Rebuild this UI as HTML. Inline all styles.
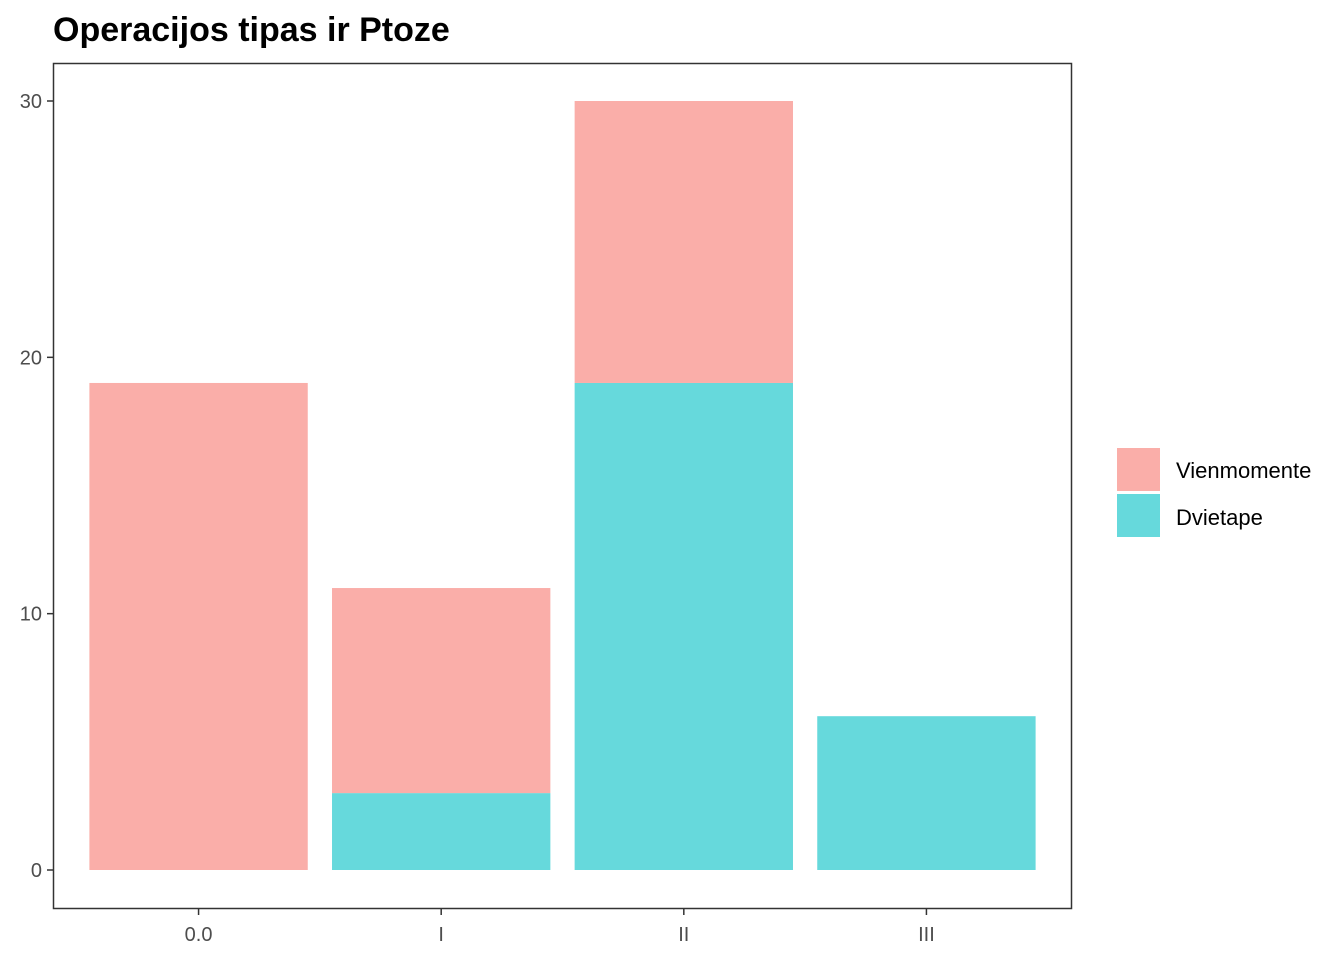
<!DOCTYPE html>
<html><head><meta charset="utf-8"><style>
body{margin:0;background:#fff;}
svg text{font-family:"Liberation Sans",Arial,sans-serif;}
</style></head><body>
<svg id="chart" width="1344" height="960" xmlns="http://www.w3.org/2000/svg">
<text x="53" y="41" font-size="34" font-weight="bold" fill="#000">Operacijos tipas ir Ptoze</text>
<g id="bars"></g>
<rect x="53.5" y="63.5" width="1018" height="845" fill="none" stroke="#333" stroke-width="1.5"/>
<g id="axes"></g>
<g>
<rect x="1117" y="448" width="43" height="43" fill="#FAAEA9"/>
<rect x="1117" y="494" width="43" height="43" fill="#66D9DC"/>
<text x="1176" y="478" font-size="22" fill="#000">Vienmomente</text>
<text x="1176" y="525" font-size="22" fill="#000">Dvietape</text>
</g>
</svg>
<script>
const categories=["0.0","I","II","III"];
const dvietape=[0,3,19,6];
const vienmomente=[19,8,11,0];
const yTicks=[0,10,20,30];
const NS="http://www.w3.org/2000/svg";
const left=53,right=1072,y0=870,y30=101;
const y=v=>y0+(y30-y0)*v/30;
const unit=(right-left)/(categories.length+0.2);
const x=i=>left+(i+0.6)*unit;
const bw=unit*0.9;
const bars=document.getElementById('bars'),axes=document.getElementById('axes');
function mk(tag,attrs,parent){const e=document.createElementNS(NS,tag);for(const k in attrs)e.setAttribute(k,attrs[k]);parent.appendChild(e);return e;}
categories.forEach((c,i)=>{
  if(dvietape[i]>0){const r=mk('rect',{x:x(i)-bw/2,y:y(dvietape[i]),width:bw,height:y(0)-y(dvietape[i]),fill:'#66D9DC'},bars);
  
  }
  if(vienmomente[i]>0){const t=dvietape[i]+vienmomente[i];const r=mk('rect',{x:x(i)-bw/2,y:y(t),width:bw,height:y(dvietape[i])-y(t),fill:'#FAAEA9'},bars);
  
  }
  mk('line',{x1:x(i),x2:x(i),y1:909,y2:915,stroke:'#333','stroke-width':1.5},axes);
  const t=mk('text',{x:x(i),y:941,'font-size':20,fill:'#4d4d4d','text-anchor':'middle'},axes);t.textContent=c;
  
  
});
yTicks.forEach(v=>{
  mk('line',{x1:47,x2:53,y1:y(v),y2:y(v),stroke:'#333','stroke-width':1.5},axes);
  const t=mk('text',{x:42,y:y(v)+7,'font-size':20,fill:'#4d4d4d','text-anchor':'end'},axes);t.textContent=v;
  
  
});
</script>
</body></html>
